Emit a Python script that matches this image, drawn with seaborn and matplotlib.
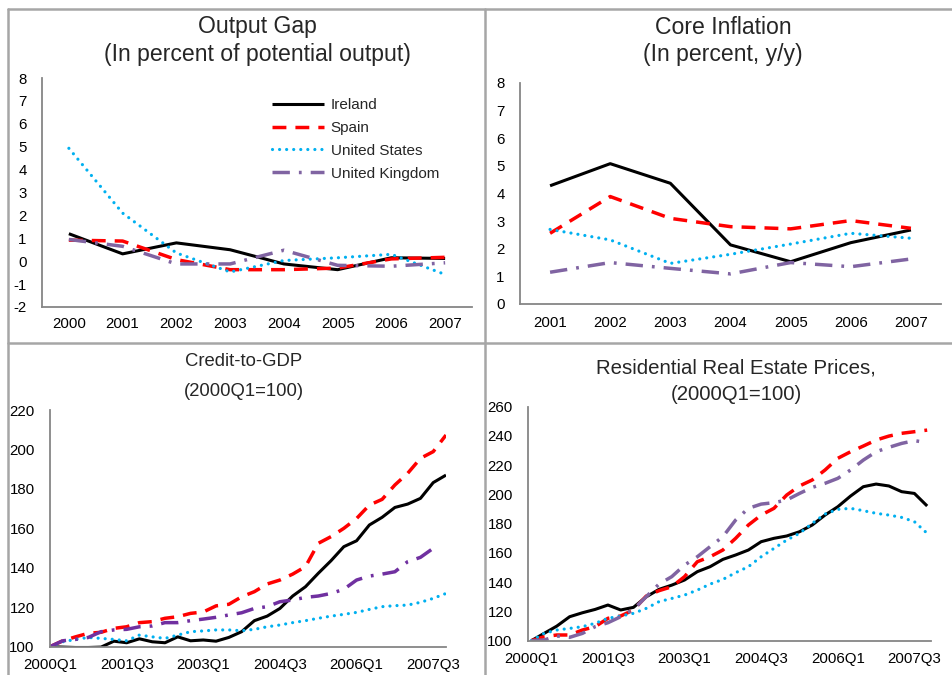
import matplotlib
matplotlib.use("Agg")
import matplotlib.pyplot as plt
from matplotlib.lines import Line2D
import seaborn as sns
import numpy as np

# ----------------------------
# Data
# ----------------------------
countries = ["Ireland", "Spain", "United States", "United Kingdom"]

gap_years = ["2000", "2001", "2002", "2003", "2004", "2005", "2006", "2007"]
gap_ireland = [1.2, 0.32, 0.8, 0.5, -0.12, -0.37, 0.15, 0.12]
gap_spain = [0.92, 0.88, 0.07, -0.37, -0.37, -0.3, 0.1, 0.17]
gap_us = [4.93, 2.1, 0.36, -0.47, 0.03, 0.15, 0.3, -0.58]
gap_uk = [0.95, 0.65, -0.12, -0.12, 0.48, -0.18, -0.22, -0.07]

infl_years = ["2001", "2002", "2003", "2004", "2005", "2006", "2007"]
infl_ireland = [4.28, 5.08, 4.37, 2.14, 1.53, 2.22, 2.68]
infl_spain = [2.56, 3.89, 3.1, 2.8, 2.72, 3.02, 2.74]
infl_us = [2.7, 2.32, 1.47, 1.8, 2.17, 2.56, 2.38]
infl_uk = [1.15, 1.5, 1.29, 1.09, 1.5, 1.35, 1.63]

quarters = [f"{y}Q{q}" for y in range(2000, 2008) for q in range(1, 5)]
quarter_labels = ["2000Q1", "2001Q3", "2003Q1", "2004Q3", "2006Q1", "2007Q3"]

credit_ireland = [100, 99.8, 99.6, 99.6, 99.8, 102.8, 102, 104, 102.5, 102, 105, 103,
                  103.4, 102.8, 104.7, 107.6, 113.2, 115.5, 119.4, 125.7, 130.4, 137.2,
                  143.6, 150.7, 153.7, 161.7, 165.6, 170.6, 172.3, 175.2, 183.2, 187]
credit_spain = [100, 103, 105, 106.8, 107.3, 109.3, 110.1, 112.2, 112.7, 114.4, 115.2, 116.9,
                117.6, 120.7, 121.5, 125.3, 127.9, 131.8, 133.8, 136.8, 140.6, 152.4,
                155.8, 160, 165, 171.8, 174.7, 182, 187.9, 195.5, 198.9, 207.3]
credit_us = [100, 102.5, 103.7, 104.7, 104.2, 103.7, 103, 105.9, 105, 104.2, 105.9, 107.6,
             108, 108.5, 108.5, 108.1, 108.8, 110.1, 111, 112.2, 113.2, 114.4,
             115.5, 116.4, 117.4, 118.9, 120.3, 120.8, 121.1, 122.5, 124.5, 127]
credit_uk = [100, 103, 103.7, 104.7, 107.6, 108.5, 108.8, 110.1, 110.5, 112.2, 112.2, 113.2,
             114, 114.9, 116.1, 117.2, 119.4, 120.3, 122.8, 123.7, 125, 125.7,
             127, 129.1, 133.8, 135.8, 136.8, 138, 143.1, 145.3, 149.9, np.nan]

house_ireland = [100, 105, 110, 116.4, 119.1, 121.4, 124.4, 121, 122.8, 130, 135.1, 138,
                 141.5, 147.2, 150.6, 155.6, 158.6, 162, 167.7, 170, 171.6, 174.5,
                 179.1, 185.9, 191.6, 198.9, 205.3, 207.1, 205.8, 201.9, 200.7, 192.1]
house_spain = [100, 102.7, 103.9, 103.9, 107.3, 109.6, 115.3, 116.9, 121, 130.5, 134.2, 136.9,
               143.8, 154, 157.4, 162, 170, 179.1, 185.9, 190.5, 199.6, 205.8,
               209.9, 216.7, 224.7, 229.2, 233.1, 237.2, 239.9, 241.8, 242.9, 244]
house_us = [100, 105, 107.3, 108.4, 109.6, 111.9, 115.3, 116.9, 118.7, 122.1, 126.7, 128.9,
            131.2, 134.6, 138.7, 141.9, 146.5, 150.6, 157.4, 163.1, 168.8, 173.4,
            180.2, 186.6, 189.8, 190.5, 188.9, 187.1, 185.9, 184.3, 181.4, 173.4]
house_uk = [100, 100.5, 103.2, 102.3, 105, 109.6, 112.3, 116.4, 121.4, 130.1, 138.7, 143.8,
            151.7, 157.4, 164.3, 171.1, 182.5, 190.5, 193.4, 194.4, 196.2, 200.7,
            204.8, 207.6, 211, 216.7, 223.5, 229.2, 232.2, 234.9, 236.8, 235.4]

# ----------------------------
# Styles
# ----------------------------
sns.set_style("white")
plt.rcParams["font.family"] = ["Liberation Sans", "DejaVu Sans"]
plt.rcParams["axes.unicode_minus"] = False

styles = {
    "Ireland": dict(color="black", lw=2.2, dashes=None),
    "Spain": dict(color="#ff0000", lw=2.5, dashes=(4.0, 2.6)),
    "United States": dict(color="#00b0f0", lw=2.3, dashes=(0.01, 2.2)),
    "United Kingdom": dict(color="#8064a2", lw=2.5, dashes=(5.0, 2.6, 0.8, 2.6)),
}
SPINE = "#868686"
TICK_FS = 10.8


def draw_series(ax, x, values, name, color=None):
    st = styles[name]
    sns.lineplot(x=x, y=values, ax=ax, color=color or st["color"],
                 linewidth=st["lw"], label=name, legend=False)
    line = ax.lines[-1]
    if st["dashes"] is not None:
        line.set_dashes(st["dashes"])
        line.set_dash_capstyle("round" if name == "United States" else "butt")
    line.set_solid_capstyle("butt")
    return line


def style_axes(ax):
    sns.despine(ax=ax)
    for s in ["left", "bottom"]:
        ax.spines[s].set_color(SPINE)
        ax.spines[s].set_linewidth(1.3)
    ax.tick_params(axis="both", which="both", colors=SPINE, labelcolor="black",
                   labelsize=TICK_FS, direction="out", length=4, width=1)
    ax.tick_params(axis="y", pad=7)
    ax.tick_params(axis="x", pad=8)
    ax.grid(False)


fig = plt.figure(figsize=(9.52, 6.75), dpi=100)

# ----------------------------
# Output gap
# ----------------------------
ax1 = fig.add_axes([42 / 952, 1 - 307 / 675, 430 / 952, 229 / 675])
xg = np.arange(len(gap_years))
handles = []
for name, vals in zip(countries, [gap_ireland, gap_spain, gap_us, gap_uk]):
    handles.append(draw_series(ax1, xg, vals, name))
ax1.set_xlim(-0.5, len(gap_years) - 0.5)
ax1.set_ylim(-2, 8)
ax1.set_yticks(range(-2, 9))
ax1.set_xticks(xg)
ax1.set_xticklabels(gap_years)
ax1.set_xticks(np.arange(-0.5, len(gap_years)), minor=True)
style_axes(ax1)
ax1.tick_params(axis="x", which="major", length=0, pad=7)
ax1.legend(handles=handles, labels=countries, loc="upper left",
           bbox_to_anchor=(272 / 952, 1 - 98 / 675), bbox_transform=fig.transFigure,
           frameon=False, fontsize=11, handlelength=3.4, handletextpad=0.45,
           labelspacing=0.58, borderpad=0, borderaxespad=0)

# ----------------------------
# Core inflation
# ----------------------------
ax2 = fig.add_axes([520 / 952, 1 - 304 / 675, 421 / 952, 221 / 675])
xi = np.arange(len(infl_years))
for name, vals in zip(countries, [infl_ireland, infl_spain, infl_us, infl_uk]):
    draw_series(ax2, xi, vals, name)
ax2.set_xlim(-0.5, len(infl_years) - 0.5)
ax2.set_ylim(0, 8)
ax2.set_yticks(range(0, 9))
ax2.set_xticks(xi)
ax2.set_xticklabels(infl_years)
ax2.set_xticks(np.arange(-0.5, len(infl_years)), minor=True)
style_axes(ax2)
ax2.tick_params(axis="x", which="major", length=0, pad=9)

# ----------------------------
# Credit-to-GDP
# ----------------------------
xq = np.arange(len(quarters))
qlabels = [q if q in quarter_labels else "" for q in quarters]

ax3 = fig.add_axes([50 / 952, 1 - 646.7 / 675, 396 / 952, 236.7 / 675])
for name, vals in zip(countries, [credit_ireland, credit_spain, credit_us, credit_uk]):
    draw_series(ax3, xq, vals, name,
                color="#7030a0" if name == "United Kingdom" else None)
ax3.set_xlim(0, len(quarters) - 1)
ax3.set_ylim(100, 220)
ax3.set_yticks(range(100, 221, 20))
ax3.set_xticks(xq)
ax3.set_xticklabels(qlabels)
style_axes(ax3)
ax3.tick_params(axis="x", pad=4)

# ----------------------------
# Residential real estate prices
# ----------------------------
ax4 = fig.add_axes([528 / 952, 1 - 640.7 / 675, 403 / 952, 234 / 675])
for name, vals in zip(countries, [house_ireland, house_spain, house_us, house_uk]):
    draw_series(ax4, xq, vals, name)
ax4.set_xlim(-0.26, len(quarters) - 0.7)
ax4.set_ylim(100, 260)
ax4.set_yticks(range(100, 261, 20))
ax4.set_xticks(xq)
ax4.set_xticklabels(qlabels)
style_axes(ax4)
ax4.tick_params(axis="x", pad=4)

# ----------------------------
# Titles
# ----------------------------
titles = [
    ("Output Gap", 257, 27, 16.6), ("(In percent of potential output)", 257, 55, 16.6),
    ("Core Inflation", 723, 27, 16.6), ("(In percent, y/y)", 723, 55, 16.6),
    ("Credit-to-GDP", 244, 362, 13.3), ("(2000Q1=100)", 244, 391, 13.3),
    ("Residential Real Estate Prices,", 736, 368, 14.7), ("(2000Q1=100)", 736, 395, 14.7),
]
for text, x, y, fs in titles:
    fig.text(x / 952, 1 - y / 675, text, ha="center", va="center", fontsize=fs)

# ----------------------------
# Panel borders
# ----------------------------
BORDER = "#a6a6a6"
for xs, ys in [((8, 952), (9, 9)), ((8, 8), (9, 675)),
               ((485, 485), (9, 675)), ((8, 952), (343, 343))]:
    fig.add_artist(Line2D([x / 952 for x in xs], [1 - y / 675 for y in ys],
                          transform=fig.transFigure, color=BORDER, lw=1.8))

fig.savefig("out.png", dpi=100)
plt.close(fig)
